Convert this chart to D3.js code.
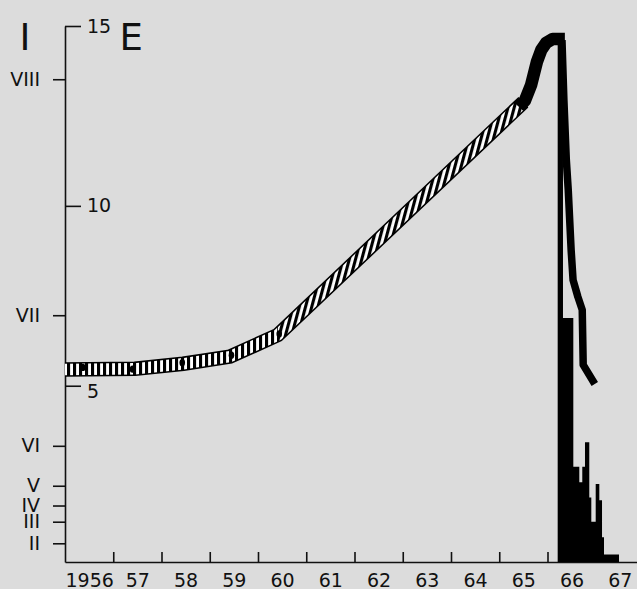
<!DOCTYPE html>
<meta charset="utf-8">
<script src="https://d3js.org/d3.v7.min.js"></script>
<style>
  body { margin: 0; background: #dcdcdc; }
  svg { display: block; background: #dcdcdc; }
</style>
<div id="my_dataviz"></div>
<script>
// axis labels
const yearLabels = ["1956","57","58","59","60","61","62","63","64","65","66","67"];
const yearTicks = [1957,1958,1959,1960,1961,1962,1963,1964,1965,1966,1967];
const eTicks = [5, 10, 15];
const romanLabels = ["II","III","IV","V","VI","VII","VIII"];
const romanLevels = [0.62, 1.22, 1.67, 2.22, 3.33, 6.96, 13.52];

// hatched band (centre line)
const bandYears = [1956.0, 1957.45, 1958.45, 1959.42, 1960.41, 1965.50];
const bandE     = [5.45, 5.47, 5.61, 5.81, 6.41, 12.88];

// measured points on the band
const dotYears = [1956.37, 1957.40, 1958.43, 1959.45, 1960.44];
const dotE     = [5.51, 5.46, 5.64, 5.85, 6.44];

// black curve: rise to the peak, then the fall
const riseYears = [1965.41, 1965.53, 1965.66, 1965.78, 1965.87, 1965.97, 1966.11, 1966.36];
const riseE     = [12.75, 12.92, 13.36, 14.00, 14.33, 14.53, 14.64, 14.64];
const fallYears = [1966.30, 1966.34, 1966.39, 1966.43, 1966.49, 1966.53, 1966.63, 1966.72, 1966.74, 1966.98];
const fallE     = [14.61, 12.94, 11.28, 10.44, 8.77, 7.94, 7.47, 7.11, 5.58, 5.05];

// histogram (bin edges and heights)
const histEdges = [1966.211, 1966.321, 1966.535, 1966.659, 1966.721, 1966.777, 1966.866,
                   1966.908, 1966.999, 1967.074, 1967.13, 1967.171, 1967.482];
const histValues = [14.5, 6.88, 2.75, 2.32, 2.75, 3.43, 1.89, 1.22, 2.27, 1.82, 0.79, 0.31];

const width = 637, height = 589;
const yBase = 0.1;

const svg = d3.select("#my_dataviz")
  .append("svg")
    .attr("width", width)
    .attr("height", height);

const x = d3.scaleLinear().domain([1956, 1968]).range([65, 644]);
const y = d3.scaleLinear().domain([yBase, 15]).range([562, 26]);

// patterns for the band
const defs = svg.append("defs");
function hatch(id, angle) {
  const p = defs.append("pattern")
    .attr("id", id)
    .attr("patternUnits", "userSpaceOnUse")
    .attr("width", 6)
    .attr("height", 20)
    .attr("patternTransform", `rotate(${angle})`);
  p.append("rect").attr("width", 6).attr("height", 20).attr("fill", "#fff");
  p.append("rect").attr("x", 1).attr("width", 3.1).attr("height", 20).attr("fill", "#000");
}
hatch("hatchFlat", 0);
hatch("hatchSlope", 15);

const kink = x(bandYears[4]);
defs.append("clipPath").attr("id", "clipFlat")
  .append("rect").attr("x", 0).attr("y", 0).attr("width", kink).attr("height", height);
defs.append("clipPath").attr("id", "clipSlope")
  .append("rect").attr("x", kink).attr("y", 0).attr("width", width - kink).attr("height", height);

const font = "DejaVu Sans, sans-serif";

// X axis: ticks at year boundaries
svg.append("g")
  .attr("transform", `translate(0, ${y(yBase)})`)
  .call(d3.axisBottom(x).tickValues(yearTicks).tickSize(-10).tickFormat("").tickSizeOuter(0))
  .call(g => g.selectAll("line, path").attr("stroke", "#111").attr("stroke-width", 1.6));

// X labels, centred in each year
svg.append("g")
  .attr("transform", `translate(0, ${y(yBase)})`)
  .call(d3.axisBottom(x)
    .tickValues(yearLabels.map((d, i) => 1956.5 + i))
    .tickFormat((d, i) => yearLabels[i])
    .tickSize(0).tickPadding(12))
  .call(g => g.select(".domain").remove())
  .call(g => g.selectAll("text").attr("font-size", 19).attr("font-family", font).attr("fill", "#111"));

// left axis (I scale, roman)
svg.append("g")
  .attr("transform", `translate(${x(1956)}, 0)`)
  .call(d3.axisLeft(y).tickValues(romanLevels).tickFormat((d, i) => romanLabels[i])
    .tickSize(12).tickPadding(13))
  .call(g => g.select(".domain").remove())
  .call(g => g.selectAll("line").attr("stroke", "#111").attr("stroke-width", 1.6))
  .call(g => g.selectAll("text").attr("font-size", 19).attr("font-family", font).attr("fill", "#111"));

// right-hand ticks (E scale)
svg.append("g")
  .attr("transform", `translate(${x(1956)}, 0)`)
  .call(d3.axisRight(y).tickValues(eTicks).tickSize(16).tickPadding(6).tickSizeOuter(0))
  .call(g => g.selectAll("line, path").attr("stroke", "#111").attr("stroke-width", 1.6))
  .call(g => g.selectAll("text").attr("font-size", 19).attr("font-family", font).attr("fill", "#111"))
  .call(g => g.selectAll(".tick").filter(d => d === 5).select("text").attr("dy", "0.6em"));

// axis titles
svg.append("text")
  .attr("x", 25).attr("y", 50)
  .attr("text-anchor", "middle")
  .attr("font-size", 37).attr("font-family", font).attr("fill", "#111")
  .text("I");
svg.append("text")
  .attr("x", 119.5).attr("y", 50)
  .attr("font-size", 37).attr("font-family", font).attr("fill", "#111")
  .text("E");

// hatched band
const bandLine = d3.line()
  .x((d, i) => x(bandYears[i]))
  .y(d => y(d));

svg.append("path")
  .attr("d", bandLine(bandE))
  .attr("fill", "none")
  .attr("stroke", "#000")
  .attr("stroke-width", 14.5);

svg.append("path")
  .attr("d", bandLine(bandE))
  .attr("clip-path", "url(#clipFlat)")
  .attr("fill", "none")
  .attr("stroke", "url(#hatchFlat)")
  .attr("stroke-width", 11.4);

svg.append("path")
  .attr("d", bandLine(bandE))
  .attr("clip-path", "url(#clipSlope)")
  .attr("fill", "none")
  .attr("stroke", "url(#hatchSlope)")
  .attr("stroke-width", 11.4);

// dots
svg.selectAll("ellipse.pt")
  .data(dotE)
  .join("ellipse")
    .attr("class", "pt")
    .attr("cx", (d, i) => x(dotYears[i]))
    .attr("cy", d => y(d))
    .attr("rx", 2.8)
    .attr("ry", 3.6)
    .attr("fill", "#000");

// histogram as a step area
const histPts = histEdges.map((e, i) => [e, histValues[Math.min(i, histValues.length - 1)]]);
svg.append("path")
  .attr("d", d3.area()
    .curve(d3.curveStepAfter)
    .x(d => x(d[0]))
    .y0(y(yBase))
    .y1(d => y(d[1]))(histPts))
  .attr("fill", "#000");

// black curve
const riseLine = d3.line().x((d, i) => x(riseYears[i])).y(d => y(d));
svg.append("path")
  .attr("d", riseLine(riseE))
  .attr("fill", "none")
  .attr("stroke", "#000")
  .attr("stroke-width", 12.5)
  .attr("stroke-linejoin", "round");

const fallLine = d3.line().x((d, i) => x(fallYears[i])).y(d => y(d));
svg.append("path")
  .attr("d", fallLine(fallE))
  .attr("fill", "none")
  .attr("stroke", "#000")
  .attr("stroke-width", 7.5)
  .attr("stroke-linejoin", "round");
</script>
